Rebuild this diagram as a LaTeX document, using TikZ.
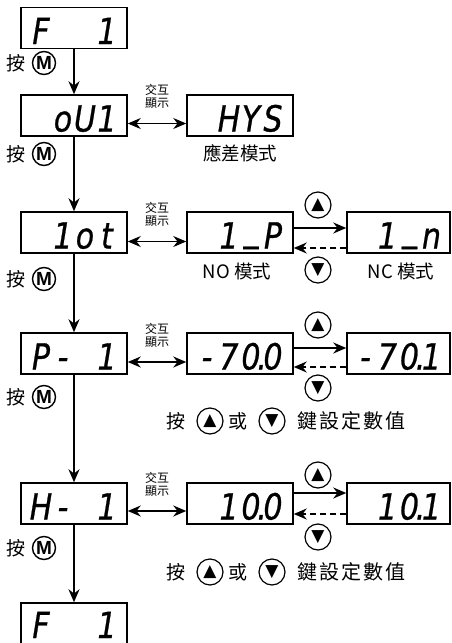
\documentclass[tikz,border=0pt]{standalone}
\usepackage{fontspec}
\usepackage{graphicx}
\setmainfont{Noto Sans CJK TC}
\newfontfamily\segfont{DejaVu Sans}[FakeBold = 0.8]
\newfontfamily\symfont{DejaVu Sans}
\newfontfamily\keyfont{Liberation Sans}
\usetikzlibrary{arrows.meta}
\usetikzlibrary{positioning}
\tikzset{disp/.style = {draw, line width = 1.5, minimum width = 106, minimum height = 41, inner sep = 0, text height = 32, text depth = 0, font = \segfont\itshape\fontsize{30}{30}\selectfont}}
\tikzset{key/.style = {draw, circle, line width = 1.2, minimum size = 26, inner sep = 0, font = \symfont\fontsize{17}{17}\selectfont}}
\tikzset{mkey/.style = {draw, circle, line width = 1.4, minimum size = 23, inner sep = 0, font = \keyfont\bfseries\fontsize{19}{19}\selectfont}}
\tikzset{lbl/.style = {inner sep = 0, font = \fontsize{19}{19}\selectfont}}
\tikzset{note/.style = {inner sep = 0, font = \fontsize{18.5}{18.5}\selectfont}}
\tikzset{swapnote/.style = {inner sep = 0, align = center, font = \fontsize{12}{13}\selectfont}}
\tikzset{flow/.style = {line width = 1.2, -{Stealth[length = 13, width = 11]}}}
\tikzset{both/.style = {line width = 1.2, {Stealth[length = 13, width = 11]}-{Stealth[length = 13, width = 11]}}}
\newcommand{\seg}[1]{\makebox[22pt][c]{#1}}
\newcommand{\segpt}[1]{\makebox[22pt][c]{#1}\makebox[0pt][c]{.}}
\newcommand{\seglow}{\makebox[22pt][c]{\raisebox{6.5pt}{\_}}}
\newcommand{\lcd}[1]{\scalebox{1}[1.2]{#1}}

\begin{document}
\begin{tikzpicture}[x = 1pt, y = -1pt]
  \useasboundingbox (0, 0) rectangle (452, 643);
  \clip (0, 0) rectangle (452, 643);
  % left column
  \node [disp] (ftop) at (74, 28) {\lcd{\seg{F}\seg{}\seg{}\seg{1}}};
  \node [disp] (oui) at (74, 115.5) {\lcd{\seg{}\seg{o}\seg{U}\seg{1}}};
  \node [disp] (iot) at (74, 232.5) {\lcd{\seg{}\seg{1}\seg{o}\seg{t}}};
  \node [disp] (pone) at (74, 353.5) {\lcd{\seg{P}\seg{-}\seg{}\seg{1}}};
  \node [disp] (hone) at (74, 503.5) {\lcd{\seg{H}\seg{-}\seg{}\seg{1}}};
  \node [disp, text height = 29] (fbot) at (74, 623.5) {\lcd{\seg{F}\seg{}\seg{}\seg{1}}};
  % middle and right column
  \node [disp] (hys) at (240, 115.5) {\lcd{\seg{}\seg{H}\seg{Y}\seg{S}}};
  \node [disp] (onep) at (240, 232.5) {\lcd{\seg{}\seg{1}\seglow\seg{P}}};
  \node [disp, minimum width = 103] (onen) at (398.5, 232.5) {\lcd{\seg{}\seg{1}\seglow\seg{n}}};
  \node [disp] (sev) at (240, 353.5) {\lcd{\seg{-}\seg{7}\segpt{0}\seg{0}}};
  \node [disp, minimum width = 103] (sevb) at (398.5, 353.5) {\lcd{\seg{-}\seg{7}\segpt{0}\seg{1}}};
  \node [disp] (ten) at (240, 503.5) {\lcd{\seg{}\seg{1}\segpt{0}\seg{0}}};
  \node [disp, minimum width = 103] (tenb) at (398.5, 503.5) {\lcd{\seg{}\seg{1}\segpt{0}\seg{1}}};
  % M keys
  \node [mkey] (ma) at (44, 63) {M};
  \node [mkey] (mb) at (44, 154) {M};
  \node [mkey] (mc) at (44, 279) {M};
  \node [mkey] (md) at (44, 397) {M};
  \node [mkey] (me) at (44, 548) {M};
  \foreach \m in {ma, mb, mc, md, me}
    \node [lbl, left = 6pt of \m] (p\m) {按};
  % down the column
  \draw [flow] (ftop) -- (oui);
  \draw [flow] (oui) -- (iot);
  \draw [flow] (iot) -- (pone);
  \draw [flow] (pone) -- (hone);
  \draw [flow] (hone) -- (fbot);
  % swap display
  \draw [both] ([yshift = -8]oui.east) -- ([yshift = -8]hys.west) node [swapnote, pos = 0.5, above = 14pt] (swa) {交互\\顯示};
  \draw [both] ([yshift = -9]iot.east) -- ([yshift = -9]onep.west) node [swapnote, pos = 0.5, above = 14pt] (swb) {交互\\顯示};
  \draw [both] ([yshift = -8.5]pone.east) -- ([yshift = -8.5]sev.west) node [swapnote, pos = 0.5, above = 14pt] (swc) {交互\\顯示};
  \draw [both] ([yshift = -7.5]hone.east) -- ([yshift = -7.5]ten.west) node [swapnote, pos = 0.5, above = 14pt] (swd) {交互\\顯示};
  % up and down
  \draw [flow] ([yshift = 4.5]onep.east) -- ([yshift = 4.5]onen.west);
  \draw [flow, dash pattern = on 6pt off 4pt] ([yshift = -15.5]onen.west) -- ([yshift = -15.5]onep.east);
  \draw [flow] ([yshift = 5.5]sev.east) -- ([yshift = 5.5]sevb.west);
  \draw [flow, dash pattern = on 6pt off 4pt] ([yshift = -13.5]sevb.west) -- ([yshift = -13.5]sev.east);
  \draw [flow] ([yshift = 10.5]ten.east) -- ([yshift = 10.5]tenb.west);
  \draw [flow, dash pattern = on 6pt off 4pt] ([yshift = -10.5]tenb.west) -- ([yshift = -10.5]ten.east);
  \node [key] (upa) at (318, 205) {▲};
  \node [key] (dna) at (318, 270) {▼};
  \node [key] (upb) at (318, 325) {▲};
  \node [key] (dnb) at (318, 388) {▼};
  \node [key] (upc) at (318, 475) {▲};
  \node [key] (dnc) at (318, 537) {▼};
  % captions
  \node [note, below = 8pt of hys] (hysl) {應差模式};
  \node [note] (nol) at (237, 271) {NO 模式};
  \node [note] (ncl) at (401, 271) {NC 模式};
  \foreach \r/\y in {a/421, b/572} {
    \node [lbl] (pr\r) at (176, \y) {按};
    \node [key] (ku\r) at (210, \y) {▲};
    \node [lbl] (or\r) at (238, \y) {或};
    \node [key] (kd\r) at (272, \y) {▼};
    \node [lbl, font = \fontsize{20}{20}\selectfont\addfontfeature{LetterSpace = 10}] (set\r) at (351, \y) {鍵設定數值};
  }
\end{tikzpicture}
\end{document}
